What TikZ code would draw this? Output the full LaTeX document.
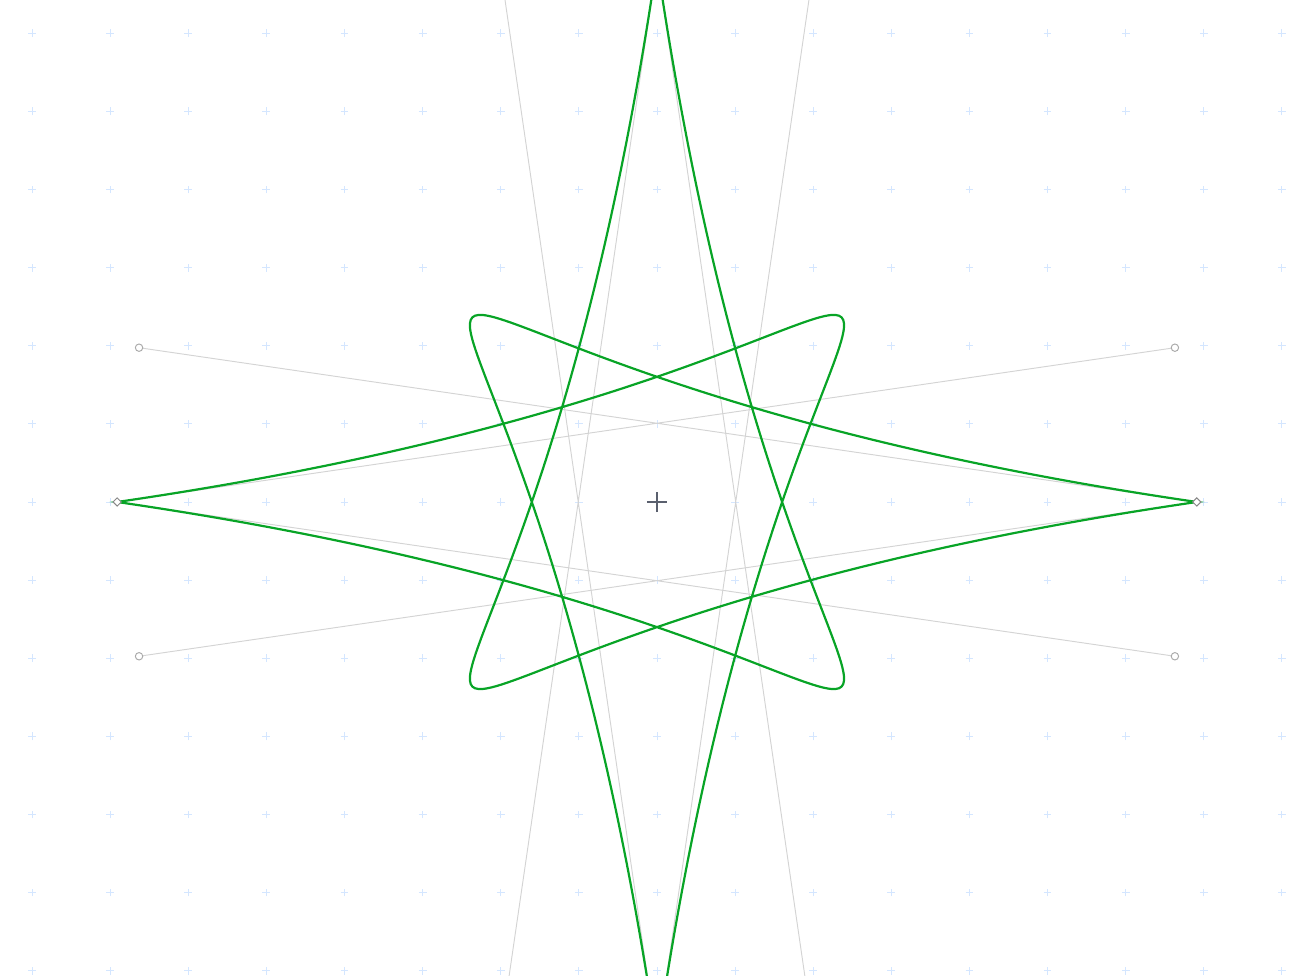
\documentclass[tikz,border=0pt]{standalone}
\usetikzlibrary{shapes.geometric}

\definecolor{curvegreen}{RGB}{8,164,38}
\definecolor{handlegrey}{RGB}{212,212,212}
\definecolor{markgrey}{RGB}{170,170,170}
\definecolor{gridblue}{RGB}{212,230,255}
\definecolor{centregrey}{RGB}{90,96,110}

\begin{document}
\begin{tikzpicture}[
    handle/.style={draw=handlegrey, line width=0.35pt},
    ctrlpt/.style={circle, draw=markgrey, fill=white, inner sep=0pt, minimum size=0.095cm, line width=0.35pt},
    tippt/.style={diamond, draw=markgrey!80!black, fill=white, inner sep=0pt, minimum size=0.11cm, line width=0.35pt}]
    \useasboundingbox (-8.41,-6.067) rectangle (8.18,6.426);
    \clip (-8.41,-6.067) rectangle (8.18,6.426);

    % grid marks
    \foreach \x in {-8,...,8}
        \foreach \y in {-6,...,6}
            \draw[gridblue, line width=0.35pt] (\x-0.05,\y) -- (\x+0.05,\y) (\x,\y-0.05) -- (\x,\y+0.05);

    % centre
    \draw[centregrey, line width=0.4pt] (-0.13,0) -- (0.13,0) (0,-0.13) -- (0,0.13);

    % tips and their handles
    \coordinate (L) at (-6.91,0);
    \coordinate (R) at (6.91,0);
    \coordinate (T) at (0,6.91);
    \coordinate (B) at (0,-6.91);
    \coordinate (Lup) at (6.63,1.975);
    \coordinate (Ldn) at (6.63,-1.975);
    \coordinate (Rup) at (-6.63,1.975);
    \coordinate (Rdn) at (-6.63,-1.975);
    \coordinate (Bl) at (-1.975,6.63);
    \coordinate (Br) at (1.975,6.63);
    \coordinate (Tl) at (-1.975,-6.63);
    \coordinate (Tr) at (1.975,-6.63);

    \draw[handle] (L) -- (Lup) (L) -- (Ldn) (R) -- (Rup) (R) -- (Rdn);
    \draw[handle] (B) -- (Bl) (B) -- (Br) (T) -- (Tl) (T) -- (Tr);

    % star: four cubic segments, one loop each
    \draw[curvegreen, line width=0.8pt]
        (L) .. controls (Lup) and (Br) .. (B)
            .. controls (Bl) and (Rup) .. (R)
            .. controls (Rdn) and (Tl) .. (T)
            .. controls (Tr) and (Ldn) .. cycle;

    \foreach \p in {Lup,Ldn,Rup,Rdn,Bl,Br,Tl,Tr}
        \node[ctrlpt] (c\p) at (\p) {};
    \foreach \p in {L,R,T,B}
        \node[tippt] (t\p) at (\p) {};
\end{tikzpicture}
\end{document}
